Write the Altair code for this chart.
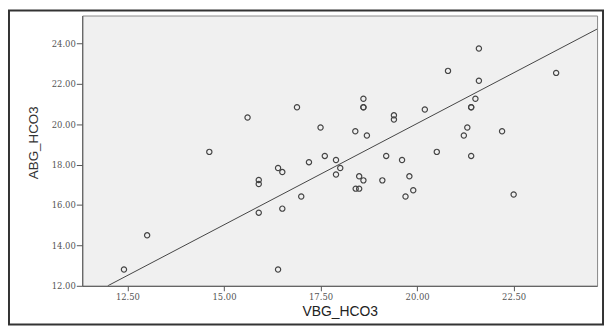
import altair as alt
import pandas as pd

vbg_hco3 = [12.41, 13.01, 14.62, 15.61, 15.90, 15.90, 15.90, 16.40, 16.51, 16.40,
            16.51, 16.89, 17.00, 17.20, 17.50, 17.61, 17.90, 18.01, 17.90, 18.40,
            18.61, 18.61, 18.61, 18.70, 18.50, 18.61, 18.41, 18.50, 19.10, 19.20,
            19.40, 19.40, 19.61, 19.70, 19.80, 19.90, 20.20, 20.51, 20.80, 21.21,
            21.30, 21.40, 21.40, 21.40, 21.51, 21.60, 21.60, 22.20, 22.50, 23.60]
abg_hco3 = [12.81, 14.50, 18.63, 20.33, 17.24, 17.04, 15.62, 17.83, 17.63, 12.81,
            15.82, 20.84, 16.42, 18.12, 19.84, 18.43, 18.23, 17.83, 17.51, 19.65,
            21.26, 20.84, 20.84, 19.44, 17.42, 17.22, 16.81, 16.81, 17.22, 18.43,
            20.44, 20.23, 18.23, 16.42, 17.42, 16.73, 20.73, 18.63, 22.64, 19.44,
            19.84, 20.84, 20.84, 18.43, 21.26, 22.15, 23.75, 19.65, 16.52, 22.54]

# Fit line end points
fit_x = [11.99, 24.66]
fit_y = [12.00, 24.71]

x_ticks = [12.5, 15.0, 17.5, 20.0, 22.5]
y_ticks = [12, 14, 16, 18, 20, 22, 24]

pts = pd.DataFrame({"VBG_HCO3": vbg_hco3, "ABG_HCO3": abg_hco3})
fit = pd.DataFrame({"VBG_HCO3": fit_x, "ABG_HCO3": fit_y})

W, H = 520, 273
xs = alt.Scale(domain=[11.33, 24.66], nice=False, zero=False)
ys = alt.Scale(domain=[12, 25.38], nice=False, zero=False)

xaxis = alt.Axis(values=x_ticks, format=".2f", title="VBG_HCO3", grid=False,
                 tickSize=5, labelPadding=2, labelFont="DejaVu Serif",
                 labelFontSize=8.5, labelColor="#555",
                 titleFont="Liberation Sans", titleFontSize=14,
                 titleFontWeight="normal", titleColor="#222", titlePadding=3,
                 domainColor="#555", tickColor="#555")
yaxis = alt.Axis(values=y_ticks, format=".2f", title="ABG_HCO3", grid=False,
                 tickSize=6, labelPadding=1, labelFont="DejaVu Serif",
                 labelFontSize=8.5, labelColor="#555",
                 titleFont="Liberation Sans", titleFontSize=13.5,
                 titleFontWeight="normal", titleColor="#333",
                 titleAngle=270, titleX=-49, titleY=128,
                 titleAlign="center", titleBaseline="middle",
                 domainColor="#555", tickColor="#555")

points = alt.Chart(pts).mark_point(shape="circle", filled=False, size=28,
                                    stroke="#444", strokeWidth=1.2, opacity=1).encode(
    x=alt.X("VBG_HCO3:Q", scale=xs, axis=xaxis),
    y=alt.Y("ABG_HCO3:Q", scale=ys, axis=yaxis),
)

line = alt.Chart(fit).mark_line(color="#444", strokeWidth=1, clip=True).encode(
    x=alt.X("VBG_HCO3:Q", scale=xs),
    y=alt.Y("ABG_HCO3:Q", scale=ys),
)

frame = alt.Chart(pd.DataFrame({"a": [0]})).mark_rect(
    filled=False, stroke="#333", strokeWidth=2, clip=False).encode(
    x=alt.value(-74), x2=alt.value(526), y=alt.value(-5), y2=alt.value(312))

chart = alt.layer(points, line, frame).properties(
    width=W, height=H,
    autosize=alt.AutoSizeParams(type="none"),
    padding={"left": 75, "top": 6, "right": 8, "bottom": 41},
    background="white",
).configure_view(fill="#F0F0F0", stroke="#888", strokeWidth=1)

chart.save("out.html", embed_options={"renderer": "svg", "actions": False})
